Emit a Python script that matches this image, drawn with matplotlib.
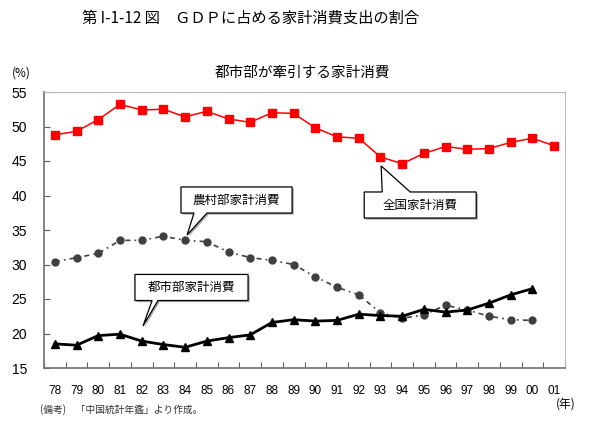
import matplotlib
matplotlib.use("Agg")
import matplotlib.pyplot as plt
from matplotlib.patches import Polygon
import matplotlib.patheffects as pe

plt.rcParams['font.family'] = ['Noto Sans CJK JP', 'DejaVu Sans']

years = ['78', '79', '80', '81', '82', '83', '84', '85', '86', '87', '88', '89',
         '90', '91', '92', '93', '94', '95', '96', '97', '98', '99', '00', '01']
national = [48.8, 49.3, 51.0, 53.2, 52.4, 52.5, 51.4, 52.2, 51.1, 50.6, 52.0, 51.9,
            49.8, 48.5, 48.3, 45.6, 44.6, 46.1, 47.1, 46.7, 46.8, 47.7, 48.3, 47.2]
rural = [30.4, 31.0, 31.6, 33.5, 33.5, 34.1, 33.5, 33.3, 31.8, 31.0, 30.6, 30.0,
         28.2, 26.7, 25.6, 23.0, 22.2, 22.7, 24.1, 23.4, 22.5, 22.0, 21.9]
urban = [18.5, 18.3, 19.7, 19.9, 18.9, 18.4, 18.0, 18.9, 19.4, 19.8, 21.6, 22.0,
         21.8, 21.9, 22.8, 22.6, 22.5, 23.5, 23.1, 23.4, 24.4, 25.6, 26.5]

W, H = 589, 426
fig = plt.figure(figsize=(W / 100, H / 100), dpi=100)
ax = fig.add_axes([44 / W, 1 - 368 / H, 521 / W, 276 / H])

xs = list(range(len(years)))
ax.plot(xs, national, color='red', lw=1.1, marker='s', ms=5.5, zorder=3)
ax.plot(xs[:len(rural)], rural, color='#404040', lw=1.2, ls=(0, (3, 2.5, 1, 2.5)),
        marker='o', ms=5, zorder=3)
ax.plot(xs[:len(urban)], urban, color='black', lw=2, marker='^', ms=6, zorder=3)

ax.set_xlim(-0.5, len(years) - 0.5)
ax.set_ylim(15, 55)
ax.set_yticks(range(15, 56, 5))
ax.set_xticks([x - 0.5 for x in range(len(years) + 1)])
ax.set_xticklabels([])
ax.set_xticks(xs, minor=True)
ax.set_xticklabels(years, minor=True, fontsize=8.5, family='Liberation Sans')
ax.tick_params(axis='x', which='major', direction='in', length=4, color='#606060')
ax.tick_params(axis='x', which='minor', length=0, pad=12)
ax.tick_params(axis='y', direction='in', length=4, pad=12, labelsize=10, color='#606060')
for lab in ax.get_yticklabels():
    lab.set_family('Liberation Sans')
for s in ['left', 'bottom']:
    ax.spines[s].set_color('#707070')
    ax.spines[s].set_linewidth(1.2)
for s in ['top', 'right']:
    ax.spines[s].set_color('#b8b8b8')


# callout boxes: box corners + wedge (base on box edge, tip near the line)
def callout(x0, x1, y0, y1, b0, b1, tip, text, top=False):
    if top:
        pts = [(x0, y1), (b0, y1), tip, (b1, y1), (x1, y1), (x1, y0), (x0, y0)]
    else:
        pts = [(x0, y1), (x1, y1), (x1, y0), (b1, y0), tip, (b0, y0), (x0, y0)]
    poly = Polygon(pts, closed=True, facecolor='white', edgecolor='black', lw=0.9, zorder=5,
                   path_effects=[pe.SimplePatchShadow(offset=(1.2, -1.2), shadow_rgbFace='#999999', alpha=0.8),
                                 pe.Normal()])
    ax.add_patch(poly)
    ax.text((x0 + x1) / 2, (y0 + y1) / 2, text, ha='center', va='center', fontsize=9, zorder=6)


callout(5.81, 10.93, 37.46, 41.24, 6.41, 7.01, (6.09, 34.27), '農村部家計消費')
callout(3.69, 8.90, 24.78, 28.56, 4.48, 4.75, (4.06, 21.08), '都市部家計消費')
callout(14.25, 19.41, 36.73, 40.51, 15.08, 16.37, (15.03, 44.29), '全国家計消費', top=True)

fig.text(251 / W, 1 - 18 / H, '第 I-1-12 図　ＧＤＰに占める家計消費支出の割合',
         ha='center', va='center', fontsize=11)
fig.text(302 / W, 1 - 73 / H, '都市部が牽引する家計消費', ha='center', va='center', fontsize=10.5)
fig.text(21 / W, 1 - 73 / H, '(%)', ha='center', va='center', fontsize=8.5)
fig.text(566 / W, 1 - 404 / H, '(年)', ha='center', va='center', fontsize=8.5)
fig.text(40 / W, 1 - 410 / H, '(備考)　「中国統計年鑑」より作成。', ha='left', va='center',
         fontsize=7, color='#333333')

fig.savefig('out.png', dpi=100)
